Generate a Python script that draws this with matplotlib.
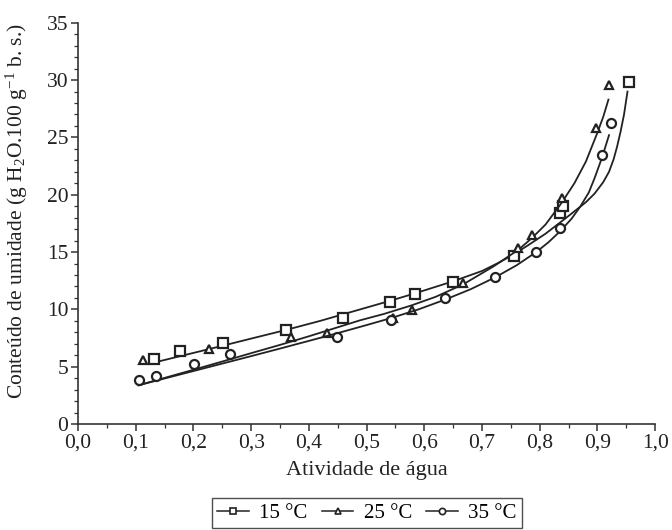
import matplotlib
matplotlib.use("Agg")
import matplotlib.pyplot as plt
from matplotlib.ticker import MultipleLocator
from matplotlib.lines import Line2D
import numpy as np

plt.rcParams['font.family'] = ['Liberation Serif', 'DejaVu Serif']
plt.rcParams['mathtext.fontset'] = 'custom'
plt.rcParams['mathtext.rm'] = 'Liberation Serif'
plt.rcParams['mathtext.it'] = 'Liberation Serif:italic'

aw_15 = [0.132, 0.177, 0.252, 0.360, 0.459, 0.541, 0.584, 0.649, 0.755, 0.835, 0.840, 0.955]
x_15 = [5.7, 6.35, 7.1, 8.23, 9.21, 10.63, 11.38, 12.37, 14.62, 18.4, 18.98, 29.8]

aw_25 = [0.112, 0.227, 0.369, 0.431, 0.545, 0.578, 0.667, 0.763, 0.787, 0.839, 0.897, 0.920]
x_25 = [5.55, 6.56, 7.57, 7.97, 9.25, 9.97, 12.28, 15.31, 16.52, 19.7, 25.85, 29.6]

aw_35 = [0.105, 0.135, 0.201, 0.263, 0.448, 0.543, 0.636, 0.723, 0.794, 0.835, 0.908, 0.924]
x_35 = [3.81, 4.22, 5.26, 6.07, 7.63, 9.07, 10.95, 12.82, 14.97, 17.07, 23.5, 26.3]

# fitted curves
fit_aw_15 = [0.135, 0.20, 0.25, 0.30, 0.36, 0.42, 0.489, 0.541, 0.584, 0.65, 0.70,
             0.73, 0.755, 0.78, 0.81, 0.841, 0.865, 0.88, 0.895, 0.91, 0.92,
             0.928, 0.934, 0.94, 0.946, 0.952]
fit_x_15 = [5.4, 6.2, 6.82, 7.45, 8.2, 9.0, 10.0, 10.75, 11.4, 12.45, 13.35,
            14.1, 14.8, 15.6, 16.6, 17.8, 18.75, 19.35, 20.1, 21.1, 22.0,
            23.1, 24.2, 25.5, 27.0, 29.0]

fit_aw_25 = [0.105, 0.15, 0.20, 0.25, 0.30, 0.35, 0.40, 0.44, 0.489, 0.53, 0.578,
             0.62, 0.668, 0.72, 0.763, 0.786, 0.81, 0.838, 0.86, 0.88, 0.899,
             0.91, 0.919]
fit_x_25 = [3.38, 4.02, 4.73, 5.45, 6.18, 6.9, 7.65, 8.28, 9.05, 9.6, 10.35,
            11.1, 12.2, 13.75, 15.2, 16.2, 17.4, 19.3, 21.0, 22.9, 25.3,
            26.8, 28.3]

fit_aw_35 = [0.105, 0.15, 0.20, 0.25, 0.30, 0.35, 0.40, 0.45, 0.50, 0.543, 0.59,
             0.636, 0.68, 0.723, 0.76, 0.794, 0.815, 0.835, 0.855, 0.87, 0.885,
             0.895, 0.9076, 0.92]
fit_x_35 = [3.38, 3.97, 4.62, 5.27, 5.92, 6.58, 7.25, 7.93, 8.63, 9.25, 10.0,
            10.85, 11.75, 12.8, 13.85, 15.0, 15.85, 16.8, 17.9, 18.95, 20.2,
            21.45, 23.2, 25.2]

labels = ['15 °C', '25 °C', '35 °C']
markers = ['s', '^', 'o']

fig = plt.figure(figsize=(6.72, 5.30), dpi=100)
ax = fig.add_axes([0.116, 0.2, 0.859, 0.757])

series = [(aw_15, x_15, fit_aw_15, fit_x_15),
          (aw_25, x_25, fit_aw_25, fit_x_25),
          (aw_35, x_35, fit_aw_35, fit_x_35)]
handles = []
for (aw, xx, fa, fx), m, lab in zip(series, markers, labels):
    ax.plot(fa, fx, color='#222222', lw=1.3, solid_joinstyle='round')
    ms = 6 if m == '^' else 6.5
    ax.plot(aw, xx, linestyle='none', marker=m, ms=ms, mfc='white',
            mec='#222222', mew=1.6, clip_on=False)
    handles.append(Line2D([], [], color='#222222', lw=1.1, marker=m, ms=4.5,
                          mfc='white', mec='#222222', mew=1.2, label=lab))

ax.set_xlim(0, 1.0)
ax.set_ylim(0, 35)
ax.xaxis.set_minor_locator(MultipleLocator(0.05))
ax.yaxis.set_major_locator(MultipleLocator(5))
ax.yaxis.set_minor_locator(MultipleLocator(1))
ax.set_xticks(np.arange(0, 1.01, 0.1))
ax.set_xticklabels([('%.1f' % v).replace('.', ',') for v in np.arange(0, 1.01, 0.1)])

for s in ['top', 'right']:
    ax.spines[s].set_visible(False)
for s in ['left', 'bottom']:
    ax.spines[s].set_linewidth(1.2)
    ax.spines[s].set_color('#333333')

ax.tick_params(which='major', direction='out', length=5, width=1.1, labelsize=15.5,
               colors='#333333', labelcolor='#222222', pad=2)
ax.tick_params(which='minor', direction='out', length=3, width=0.9, colors='#333333')

ax.set_xlabel('Atividade de água', fontsize=16, color='#222222', labelpad=6)
ax.set_ylabel('Conteúdo de umidade (g H$_2$O.100 g$^{-1}$ b. s.)', fontsize=15.5,
              color='#222222', labelpad=2)
ax.yaxis.set_label_coords(-0.083, 0.53)

leg = fig.legend(handles=handles, loc='upper center', bbox_to_anchor=(0.546, 0.08),
                 ncol=3, frameon=True, fancybox=False, fontsize=15, handlelength=1.5,
                 handletextpad=0.5, columnspacing=0.7, borderpad=0.25)
leg.get_frame().set_edgecolor('#222222')
leg.get_frame().set_linewidth(1.0)

fig.savefig('out.png', dpi=100)
